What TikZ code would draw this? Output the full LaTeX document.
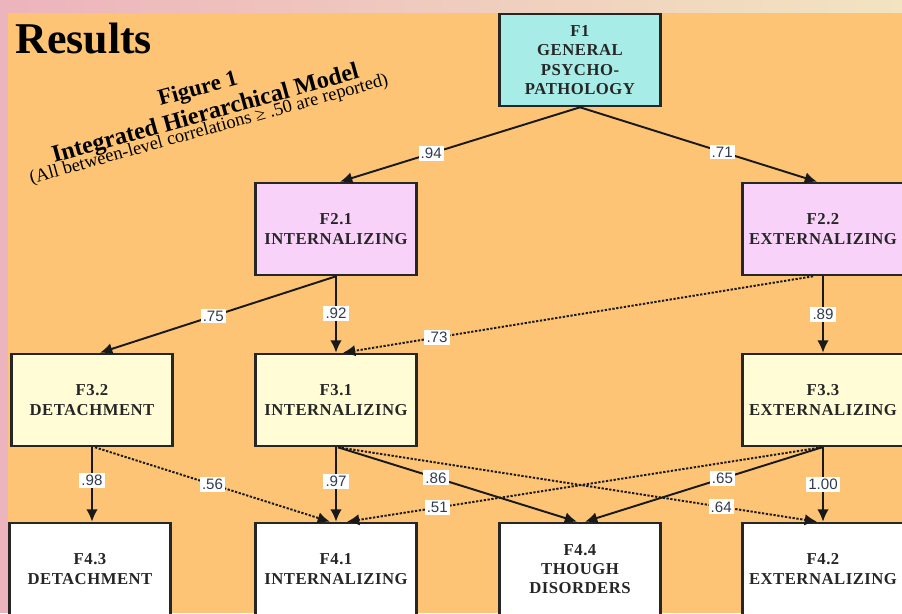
\documentclass[tikz,border=0pt]{standalone}
\usepackage{fontspec}
\setmainfont{Liberation Serif}
\setsansfont{Liberation Sans}
\newfontfamily\boxfont[LetterSpace=3]{Liberation Serif}
\usetikzlibrary{arrows.meta}
\definecolor{slide}{RGB}{253,196,118}
\definecolor{rim}{RGB}{236,180,188}
\definecolor{rimlight}{RGB}{242,228,192}
\definecolor{topfill}{RGB}{167,236,230}
\definecolor{midfill}{RGB}{248,210,248}
\definecolor{lowfill}{RGB}{255,252,214}
\definecolor{coefink}{RGB}{48,60,78}
\begin{document}
\begin{tikzpicture}[x=0.02cm,y=-0.02cm,
    factor/.style={draw=black!85,line width=1.2pt,minimum width=3.22cm,minimum height=1.85cm,
        align=center,text=black!85,font=\boxfont\bfseries\fontsize{9.5}{10.9}\selectfont},
    load/.style={draw=black!90,line width=1.1pt,-{Latex[length=7pt,width=6.5pt]}},
    cross/.style={load,dash pattern=on 1.3pt off 0.9pt},
    coef/.style={fill=white,inner sep=1.2pt,text=coefink,font=\sffamily\fontsize{8.6}{9}\selectfont}]
    \useasboundingbox (0,0) rectangle (902,613);
    \clip (0,0) rectangle (902,613);
    % slide background
    \fill[rim] (0,0) rectangle (902,613);
    \shade[left color=rim,right color=rimlight] (0,0) rectangle (902,13);
    \fill[slide] (8,13) rectangle (902,613);
    % titles
    \node[anchor=base west,inner sep=0pt,font=\bfseries\fontsize{25}{26}\selectfont] (results) at (15,53) {Results};
    \node[anchor=base west,inner sep=0pt,rotate=15.5,font=\bfseries\fontsize{13}{14}\selectfont] (figno) at (160,106) {Figure 1};
    \node[anchor=base west,inner sep=0pt,rotate=15.5,font=\bfseries\fontsize{13.8}{14}\selectfont] (model) at (54,163) {Integrated Hierarchical Model};
    \node[anchor=base west,inner sep=0pt,rotate=15.5,font=\fontsize{10.5}{11}\selectfont] (note) at (31,184) {(All between-level correlations ≥ .50 are reported)};
    % factors
    \node[factor,fill=topfill] at (580,60) (f1) {F1\\GENERAL\\PSYCHO-\\PATHOLOGY};
    \node[factor,fill=midfill] at (336,229) (f21) {F2.1\\INTERNALIZING};
    \node[factor,fill=midfill] at (823,229) (f22) {F2.2\\EXTERNALIZING};
    \node[factor,fill=lowfill] at (92,400) (f32) {F3.2\\DETACHMENT};
    \node[factor,fill=lowfill] at (336,400) (f31) {F3.1\\INTERNALIZING};
    \node[factor,fill=lowfill] at (823,400) (f33) {F3.3\\EXTERNALIZING};
    \node[factor,fill=white] at (90,569) (f43) {F4.3\\DETACHMENT};
    \node[factor,fill=white] at (336,569) (f41) {F4.1\\INTERNALIZING};
    \node[factor,fill=white] at (580,569) (f44) {F4.4\\THOUGH\\DISORDERS};
    \node[factor,fill=white] at (823,569) (f42) {F4.2\\EXTERNALIZING};
    % loadings
    \draw[load] (f1.south) -- node[coef,pos=0.62] {.94} ([xshift=0.08cm]f21.north);
    \draw[load] (f1.south) -- node[coef,pos=0.6] {.71} ([xshift=-0.12cm]f22.north);
    \draw[load] (f21.south) -- node[coef,pos=0.52] {.75} ([xshift=0.16cm]f32.north);
    \draw[load] (f21.south) -- node[coef,pos=0.49] {.92} (f31.north);
    \draw[cross] ([xshift=-0.2cm]f22.south) -- node[coef,pos=0.8] {.73} ([xshift=0.14cm]f31.north);
    \draw[load] (f22.south) -- node[coef,pos=0.5] {.89} (f33.north);
    \draw[load] (f32.south) -- node[coef,pos=0.45] {.98} (f32.south |- f43.north);
    \draw[cross] ([xshift=0.06cm]f32.south) -- node[coef,pos=0.5] {.56} ([xshift=-0.12cm]f41.north);
    \draw[load] (f31.south) -- node[coef,pos=0.46] {.97} (f41.north);
    \draw[load] ([xshift=0.04cm]f31.south) -- node[coef,pos=0.41] {.86} ([xshift=-0.06cm]f44.north);
    \draw[cross] ([xshift=0.04cm]f31.south) -- node[coef,pos=0.8] {.64} ([xshift=-0.12cm]f42.north);
    \draw[cross] ([xshift=-0.02cm]f33.south) -- node[coef,pos=0.81] {.51} ([xshift=0.22cm]f41.north);
    \draw[load] ([xshift=-0.02cm]f33.south) -- node[coef,pos=0.42] {.65} ([xshift=0.1cm]f44.north);
    \draw[load] (f33.south) -- node[coef,pos=0.5] {1.00} (f42.north);
\end{tikzpicture}
\end{document}
